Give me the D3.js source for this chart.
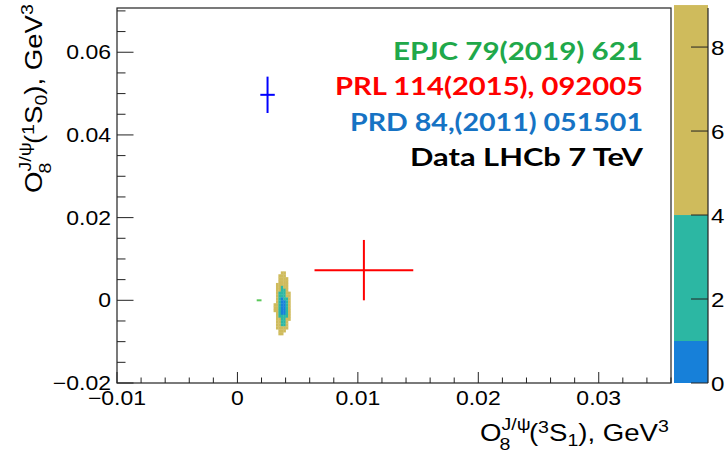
<!DOCTYPE html>
<html><head><meta charset="utf-8">
<script src="https://cdn.jsdelivr.net/npm/d3@7"></script>
<style>body{margin:0;background:#fff}svg{display:block}</style>
</head><body>
<svg id="c" width="725" height="453"></svg>
<script>
// ---------- data ----------
const xTicks = [-0.01, 0, 0.01, 0.02, 0.03];
const yTicks = [-0.02, 0, 0.02, 0.04, 0.06];
const zTicks = [0, 2, 4, 6, 8];
const xTickLabels = ["\u22120.01", "0", "0.01", "0.02", "0.03"];
const yTickLabels = ["\u22120.02", "0", "0.02", "0.04", "0.06"];
const zLevels = [0, 1, 4, 9];        // contour levels (colour bands)
const zColors = ["#1780d9", "#2cb7a3", "#cfbb5c"];
const zTopColor = "#f2e21a";

// points with errors: [x, xErr, y, yErr]
const seriesNames = ["EPJC 79(2019) 621", "PRL 114(2015), 092005", "PRD 84,(2011) 051501", "Data LHCb 7 TeV"];
const seriesColors = ["#20a84a", "#ff0000", "#1673c4", "#000000"];
const legendWidths = [250, 308, 293, 233];
const pointGreen = [0.0018, 0.0002, 0.0, 0.0];
const pointRed = [0.0105, 0.0041, 0.0073, 0.0073];
const pointBlue = [0.0025, 0.0006, 0.0497, 0.0044];

// Δχ² map of the LHCb fit: level index per cell (0:<1, 1:<4, 2:<9, -1: above)
const gridX0 = 0.0030, gridDX = 0.0002;
const gridY0 = 0.0070, gridDY = 0.0007;
const gridCells = [
  [-1,-1,-1, 2, 2,-1,-1,-1],
  [-1,-1, 2, 2, 2,-1,-1,-1],
  [-1,-1, 2, 2, 2, 2,-1,-1],
  [-1,-1, 2, 2, 2, 2,-1,-1],
  [-1, 2, 2, 2, 2, 2,-1,-1],
  [-1, 2, 2, 1, 2, 2,-1,-1],
  [-1, 2, 2, 1, 1, 2,-1,-1],
  [-1, 2, 1, 1, 1, 2, 2,-1],
  [-1, 2, 1, 1, 1, 2, 2,-1],
  [-1, 2, 1, 0, 1, 1, 2,-1],
  [-1, 2, 1, 0, 0, 1, 2,-1],
  [ 2, 2, 1, 0, 0, 1, 2,-1],
  [ 2, 2, 1, 0, 0, 1, 2,-1],
  [ 2, 2, 1, 0, 0, 1, 2,-1],
  [-1, 2, 1, 0, 0, 1, 2,-1],
  [-1, 2, 1, 1, 1, 1, 2,-1],
  [-1, 2, 2, 1, 1, 2, 2,-1],
  [-1, 2, 2, 1, 1, 2,-1,-1],
  [-1, 2, 2, 1, 1, 2,-1,-1],
  [-1, 2, 2, 2, 2, 2,-1,-1],
  [-1,-1, 2, 2, 2,-1,-1,-1],
  [-1,-1, 2, 2,-1,-1,-1,-1]
];

// ---------- layout ----------
const F = {l:117, r:671, t:8, b:383};
const P = {l:674, r:708};
const SX = 1.15; // horizontal stretch of the text
const svg = d3.select("#c");
const x = d3.scaleLinear().domain([-0.01, 0.036]).range([F.l, F.r]);
const y = d3.scaleLinear().domain([-0.02, 0.0707]).range([F.b, F.t]);
const z = d3.scaleLinear().domain([0, 8.93]).range([F.b, F.t]);
const font = "'Liberation Sans', Arial, sans-serif";

// contour cells
const cells = [];
gridCells.forEach((row, i) => row.forEach((v, j) => { if (v >= 0) cells.push({i, j, v}); }));
svg.append("g").selectAll("rect").data(cells).join("rect")
  .attr("x", d => x(gridX0 + d.j*gridDX))
  .attr("width", d => x(gridX0 + (d.j+1)*gridDX) - x(gridX0 + d.j*gridDX) + 0.3)
  .attr("y", d => y(gridY0 - d.i*gridDY))
  .attr("height", d => y(gridY0 - (d.i+1)*gridDY) - y(gridY0 - d.i*gridDY) + 0.3)
  .attr("fill", d => zColors[d.v]);

// error crosses
function cross(p, color, w) {
  const g = svg.append("g").attr("stroke", color).attr("stroke-width", w);
  g.append("line").attr("x1", x(p[0]-p[1])).attr("x2", x(p[0]+p[1])).attr("y1", y(p[2])).attr("y2", y(p[2]));
  if (p[3] > 0) g.append("line").attr("x1", x(p[0])).attr("x2", x(p[0])).attr("y1", y(p[2]-p[3])).attr("y2", y(p[2]+p[3]));
}
cross(pointGreen, "#5ac85a", 2);
cross(pointRed, "#ff0000", 2);
cross(pointBlue, "#0000ff", 2);

// frame
svg.append("rect").attr("x", F.l).attr("y", F.t).attr("width", F.r-F.l).attr("height", F.b-F.t)
  .attr("fill", "none").attr("stroke", "#222").attr("stroke-width", 1.2);

// x axis ticks
const xMinor = d3.range(-0.01, 0.0361, 0.002);
svg.append("g").attr("stroke", "#222").selectAll("line").data(xMinor).join("line")
  .attr("x1", d => x(d)).attr("x2", d => x(d)).attr("y1", F.b)
  .attr("y2", (d, i) => F.b - (i % 5 === 0 ? 11 : 5.5));
svg.append("g").selectAll("text").data(xTicks).join("text")
  .attr("transform", d => `translate(${x(d)},405) scale(${SX},1)`).attr("text-anchor", "middle")
  .attr("font-family", font).attr("font-size", 20).text((d, i) => xTickLabels[i]);

// y axis ticks
const yMinor = d3.range(-0.02, 0.0706, 0.005);
svg.append("g").attr("stroke", "#222").selectAll("line").data(yMinor).join("line")
  .attr("y1", d => y(d)).attr("y2", d => y(d)).attr("x1", F.l)
  .attr("x2", (d, i) => F.l + (i % 4 === 0 ? 16.5 : 8.5));
svg.append("g").selectAll("text").data(yTicks).join("text")
  .attr("transform", d => `translate(111,${y(d) + 7}) scale(${SX},1)`).attr("text-anchor", "end")
  .attr("font-family", font).attr("font-size", 20).text((d, i) => yTickLabels[i]);

// palette
const bands = [];
for (let k = 0; k < zColors.length; k++) bands.push({lo: zLevels[k], hi: zLevels[k+1], c: zColors[k]});
svg.append("g").selectAll("rect").data(bands).join("rect")
  .attr("x", P.l).attr("width", P.r-P.l)
  .attr("y", d => z(d.hi)).attr("height", d => z(d.lo) - z(d.hi)).attr("fill", d => d.c);
svg.append("rect").attr("x", P.l).attr("width", P.r-P.l).attr("y", F.t).attr("height", z(zLevels[3]) - F.t).attr("fill", zTopColor);
svg.append("line").attr("x1", P.r).attr("x2", P.r).attr("y1", F.t).attr("y2", F.b).attr("stroke", "#222").attr("stroke-width", 1.2);
svg.append("g").attr("stroke", "#222").selectAll("line").data(zTicks).join("line")
  .attr("x1", P.r).attr("x2", P.r - 17).attr("y1", d => z(d)).attr("y2", d => z(d));
svg.append("g").selectAll("text").data(zTicks).join("text")
  .attr("transform", d => `translate(711,${z(d) + 7.5}) scale(${SX},1)`)
  .attr("font-family", font).attr("font-size", 21).text(d => d);

// legend texts
const legendFont = "Lato, 'DejaVu Sans', sans-serif";
svg.append("g").selectAll("text").data(seriesNames).join("text")
  .attr("x", (d, i) => 643 - legendWidths[i]).attr("y", (d, i) => 60 + i*35.3)
  .attr("textLength", (d, i) => legendWidths[i]).attr("lengthAdjust", "spacingAndGlyphs")
  .attr("font-family", legendFont).attr("font-weight", "bold").attr("font-size", 25)
  .attr("fill", (d, i) => seriesColors[i]).text(d => d);

// axis titles built from pieces
function title(g, sub3, lab) {
  const t = g.append("text").attr("font-family", font).attr("font-size", 24).attr("fill", "#000");
  t.append("tspan").text("O");
  t.append("tspan").attr("font-size", 17).attr("dy", -11).text("J/\u03c8");
  t.append("tspan").attr("font-size", 17).attr("dx", -27).attr("dy", 20).text("8");
  t.append("tspan").attr("dx", 16).attr("dy", -9).text("(");
  t.append("tspan").attr("font-size", 17).attr("dy", -8).text(sub3);
  t.append("tspan").attr("dy", 8).text("S");
  t.append("tspan").attr("font-size", 17).attr("dy", 5).text(lab);
  t.append("tspan").attr("dy", -5).text("), GeV");
  t.append("tspan").attr("font-size", 17).attr("dy", -9).text("3");
  return t;
}
const xg = svg.append("g");
const xt = title(xg, "3", "1");
const xw = xt.node().getBBox().width * SX;
xg.attr("transform", `translate(${669 - xw},441) scale(${SX},1)`);
const yg = svg.append("g");
const yt = title(yg, "1", "0");
const yw = yt.node().getBBox().width * SX;
yg.attr("transform", `translate(42,${4 + yw}) rotate(-90) scale(${SX},1)`);
</script>
</body></html>
